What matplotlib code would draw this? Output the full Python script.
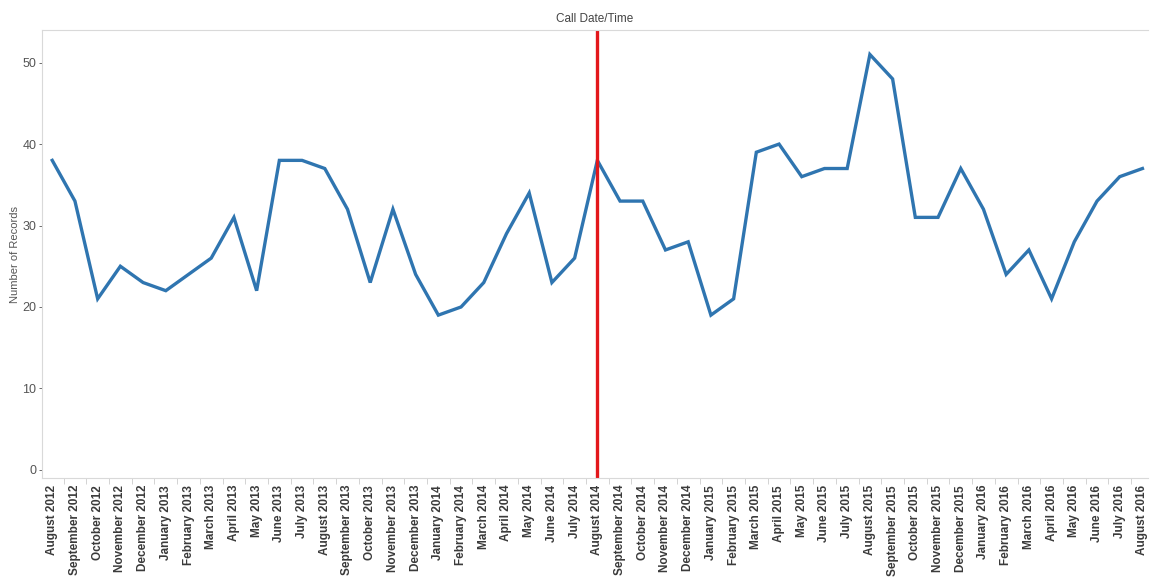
import matplotlib.pyplot as plt

plt.rcParams['font.family'] = ['Liberation Sans', 'DejaVu Sans']

months = ['August 2012', 'September 2012', 'October 2012', 'November 2012', 'December 2012',
          'January 2013', 'February 2013', 'March 2013', 'April 2013', 'May 2013', 'June 2013',
          'July 2013', 'August 2013', 'September 2013', 'October 2013', 'November 2013',
          'December 2013', 'January 2014', 'February 2014', 'March 2014', 'April 2014',
          'May 2014', 'June 2014', 'July 2014', 'August 2014', 'September 2014', 'October 2014',
          'November 2014', 'December 2014', 'January 2015', 'February 2015', 'March 2015',
          'April 2015', 'May 2015', 'June 2015', 'July 2015', 'August 2015', 'September 2015',
          'October 2015', 'November 2015', 'December 2015', 'January 2016', 'February 2016',
          'March 2016', 'April 2016', 'May 2016', 'June 2016', 'July 2016', 'August 2016']

records = [38, 33, 21, 25, 23, 22, 24, 26, 31, 22, 38, 38, 37, 32, 23, 32, 24,
           19, 20, 23, 29, 34, 23, 26, 38, 33, 33, 27, 28, 19, 21, 39, 40, 36,
           37, 37, 51, 48, 31, 31, 37, 32, 24, 27, 21, 28, 33, 36, 37]

marker_month = 'August 2014'

fig = plt.figure(figsize=(11.51, 5.78), dpi=100)
ax = fig.add_axes([0.0365, 0.173, 0.961, 0.775])

x = list(range(len(months)))
ax.plot(x, records, color='#2f75b0', linewidth=2.4, solid_joinstyle='miter')
ax.axvline(months.index(marker_month), color='#e3171b', linewidth=2.4)

ax.set_xlim(-0.45, len(months) - 0.75)
ax.set_ylim(-1, 54)
ax.set_yticks([0, 10, 20, 30, 40, 50])
ax.tick_params(axis='y', labelsize=9, colors='#555555', length=2, width=0.6, pad=2)

ax.set_xticks(x)
ax.set_xticklabels(months, rotation=90, fontsize=8.5, fontweight='bold', color='#3a3a3a')
ax.set_xticks([i + 0.5 for i in x[:-1]], minor=True)
ax.tick_params(axis='x', which='major', length=0, pad=5)
ax.tick_params(axis='x', which='minor', length=4, width=0.6, color='#cccccc')

for side in ['top', 'left', 'bottom']:
    ax.spines[side].set_color('#d9d9d9')
    ax.spines[side].set_linewidth(0.8)
ax.spines['right'].set_visible(False)

ax.set_ylabel('Number of Records', fontsize=8, color='#555555', labelpad=2)
ax.set_title('Call Date/Time', fontsize=8.5, color='#444444', pad=6)

fig.savefig('out.png', dpi=100)
